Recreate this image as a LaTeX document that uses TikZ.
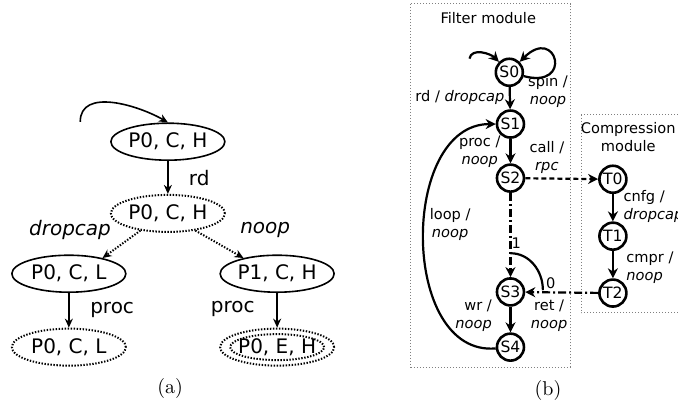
\documentclass[tikz,border=0pt]{standalone}
\usepackage{fontspec}
\setsansfont{DejaVu Sans}
\usetikzlibrary{arrows.meta,shapes.geometric}

\begin{document}
\begin{tikzpicture}[
  >={Stealth[length=4.5pt,width=4pt]},
  dots/.style={line width=1pt, dash pattern=on 0.7pt off 0.8pt},
  cfg/.style={ellipse, draw=black, line width=0.8pt, minimum width=57pt, minimum height=18.5pt, inner sep=0pt, font=\sffamily},
  cfgopen/.style={cfg, dots},
  lline/.style={line width=0.8pt},
  st/.style={circle, draw=black, line width=1.3pt, minimum size=13.5pt, inner sep=0pt, font=\sffamily\fontsize{7.8}{9}\selectfont},
  lbl/.style={font=\sffamily\fontsize{7.3}{9}\selectfont, align=center, inner sep=0pt},
  rline/.style={line width=1.1pt, -{Stealth[length=5pt,width=5pt]}},
  msg/.style={rline, dash pattern=on 2.5pt off 1.5pt},
  ctrl/.style={rline, dash pattern=on 4pt off 1.5pt on 1pt off 1.5pt},
  module/.style={draw=gray, line width=0.5pt, densely dotted},
]
\useasboundingbox (0,0) rectangle (11.914,-7.152);

% (a)
\coordinate (init1) at (1.41,-2.14);
\node[cfg] (e1) at (2.95,-2.49) {P0, C, H};
\node[cfgopen] (e2) at (2.95,-3.75) {P0, C, H};
\node[cfg] (e3) at (1.21,-4.81) {P0, C, L};
\node[cfg] (e4) at (4.87,-4.81) {P1, C, H};
\node[cfgopen] (e5) at (1.21,-6.10) {P0, C, L};
\node[cfgopen] (e6) at (4.87,-6.10) {P0, E, H};
\draw[dots] (e6.center) ellipse [x radius=23.5pt, y radius=6.5pt];

\node[font=\sffamily] (rd) at (3.50,-3.13) {rd};
\node[font=\sffamily\itshape] (dropcap) at (1.23,-4.04) {dropcap};
\node[font=\sffamily\itshape] (noop) at (4.66,-4.04) {noop};
\node[font=\sffamily] (procl) at (1.97,-5.45) {proc};
\node[font=\sffamily] (procr) at (4.09,-5.43) {proc};
\node (capa) at (2.99,-6.82) {(a)};

\draw[->, lline] (init1) to[out=90, in=150] (e1.north);
\draw[->, lline] (e1) -- (e2);
\draw[->, dots] (e2.212) -- (e3.25);
\draw[->, dots] (e2.328) -- (e4.155);
\draw[->, lline] (e3) -- (e5);
\draw[->, lline] (e4) -- (e6);

% (b)
\draw[module] (7.22,-0.07) rectangle (10.02,-6.45);
\draw[module] (10.21,-2.02) rectangle (12.30,-5.50);
\node[lbl] (filt) at (8.58,-0.32) {Filter module};
\node[lbl] (comp) at (11.04,-2.40) {Compression\\module};

\coordinate (init2) at (8.25,-1.03);
\node[st] (S0) at (8.95,-1.27) {S0};
\node[st] (S1) at (8.97,-2.18) {S1};
\node[st] (S2) at (8.97,-3.13) {S2};
\node[st] (S3) at (8.97,-5.13) {S3};
\node[st] (S4) at (8.97,-6.10) {S4};
\node[st] (T0) at (10.77,-3.15) {T0};
\node[st] (T1) at (10.77,-4.15) {T1};
\node[st] (T2) at (10.77,-5.15) {T2};
\coordinate (fork) at (8.97,-4.45);
\coordinate (join) at (9.54,-5.10);

\node[lbl] (rdl) at (8.08,-1.72) {rd / \textit{dropcap}};
\node[lbl] (spinl) at (9.63,-1.60) {spin /\\\textit{noop}};
\node[lbl] (procl2) at (8.43,-2.66) {proc /\\\textit{noop}};
\node[lbl] (calll) at (9.61,-2.76) {call /\\\textit{rpc}};
\node[lbl] (loopl) at (7.91,-3.95) {loop /\\\textit{noop}};
\node[lbl] (one) at (9.07,-4.27) {1};
\node[lbl] (zero) at (9.68,-4.97) {0};
\node[lbl, align=right, anchor=east] (wrl) at (8.65,-5.55) {wr /\\\textit{noop}};
\node[lbl] (retl) at (9.65,-5.55) {ret /\\\textit{noop}};
\node[lbl, align=left, anchor=west] (cnfgl) at (10.95,-3.62) {cnfg /\\\textit{dropcap}};
\node[lbl, align=left, anchor=west] (cmprl) at (11.00,-4.70) {cmpr /\\\textit{noop}};
\node (capb) at (9.63,-6.87) {(b)};

\draw[rline] (init2) to[out=80, in=135] (S0);
\draw[rline] (S0) to[out=-15, in=45, looseness=9] (S0);
\draw[rline] (S0) -- (S1);
\draw[rline] (S1) -- (S2);
\draw[msg] (S2) -- (T0);
\draw[ctrl] (S2) -- (S3);
\draw[rline, -] (fork) to[out=0, in=90] (join);
\draw[ctrl] (T2) -- (S3);
\draw[rline] (S3) -- (S4);
\draw[rline] (S4) to[out=185, in=180, looseness=1.1] (S1);
\draw[rline] (T0) -- (T1);
\draw[rline] (T1) -- (T2);
\end{tikzpicture}
\end{document}
